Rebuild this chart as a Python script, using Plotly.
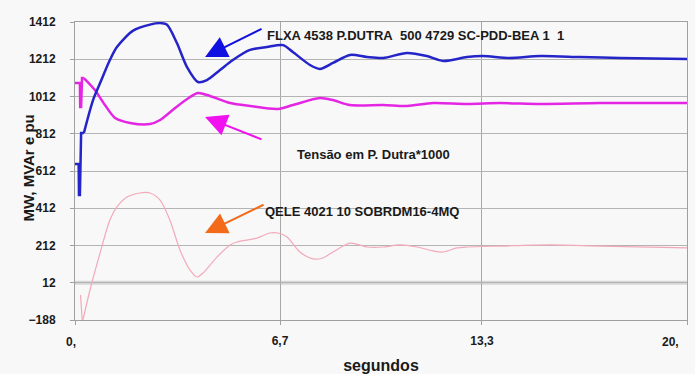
import plotly.graph_objects as go

# ---- data (time in seconds, values in MW / MVAr / pu*1000) ----
t_flxa = [0, 0.12, 0.13, 0.16, 0.2, 0.29, 0.59, 0.82, 1.14, 1.37, 1.9, 2.45, 2.78, 3.0, 3.33, 3.66,
          4.02, 4.31, 4.74, 5.16, 5.72, 6.27, 6.8, 7.12, 7.68, 8.0, 8.43, 8.99, 9.54, 10.07, 10.85,
          11.5, 12.03, 12.81, 13.33, 14.2, 15.2, 16.5, 17.8, 20.0]
v_flxa = [650, 650, 483, 483, 816, 816, 993, 1084, 1208, 1278, 1366, 1398, 1406, 1398, 1299, 1170,
          1090, 1100, 1154, 1208, 1262, 1278, 1288, 1251, 1181, 1160, 1192, 1235, 1224, 1219, 1246,
          1229, 1203, 1224, 1229, 1219, 1229, 1224, 1219, 1213]

t_tensao = [0, 0.16, 0.17, 0.2, 0.23, 0.29, 0.65, 0.98, 1.31, 1.8, 2.45, 2.78, 3.27, 3.76, 4.02,
            4.41, 5.07, 5.72, 6.63, 7.12, 8.0, 8.43, 8.99, 10.07, 10.85, 11.7, 12.81, 13.89, 15.2,
            17.16, 20.0]
v_tensao = [1084, 1084, 956, 956, 1111, 1111, 1047, 966, 897, 870, 864, 886, 950, 1009, 1031,
            1015, 977, 961, 945, 966, 1004, 993, 966, 966, 961, 977, 972, 977, 972, 977, 977]

t_qele = [0.18, 0.24, 0.26, 0.49, 0.82, 1.14, 1.37, 1.7, 2.12, 2.45, 2.78, 3.1, 3.43, 3.76, 3.99,
          4.18, 4.64, 5.07, 5.29, 5.95, 6.37, 6.63, 6.93, 7.35, 7.78, 8.1, 8.43, 8.99, 9.54, 10.07,
          10.62, 11.18, 11.7, 12.03, 12.48, 12.81, 13.89, 15.52, 17.16, 20.0]
v_qele = [-54, -200, -188, -27, 172, 349, 419, 472, 494, 494, 456, 349, 188, 80, 43,
          64, 150, 215, 231, 252, 279, 279, 258, 177, 140, 145, 177, 225, 204, 204,
          215, 204, 183, 177, 199, 204, 209, 215, 209, 199]

y_ticks = [1412, 1212, 1012, 812, 612, 412, 212, 12, -188]
x_ticks = [0, 6.7, 13.3, 20]
x_tick_text = ["0,", "6,7", "13,3", "20,"]

labels = ["FLXA 4538 P.DUTRA\u00a0 500 4729 SC-PDD-BEA 1\u00a0 1",
          "Tensão em P. Dutra*1000",
          "QELE 4021 10 SOBRDM16-4MQ"]

FONT = "Liberation Sans, Arial, sans-serif"
BLUE = "#2424c8"
MAG = "#e426e4"
PINK = "#f2a9ba"
TXT = "#1a1a1a"


def add_series(t, v, split, color, width):
    # initial switching transient drawn straight, the rest smoothed
    fig.add_trace(go.Scatter(x=t[:split + 1], y=v[:split + 1], mode="lines",
                             line=dict(color=color, width=width)))
    fig.add_trace(go.Scatter(x=t[split:], y=v[split:], mode="lines",
                             line=dict(color=color, width=width, shape="spline", smoothing=0.8)))


fig = go.Figure()
add_series(t_qele, v_qele, 2, PINK, 1.2)
add_series(t_tensao, v_tensao, 5, MAG, 2.5)
add_series(t_flxa, v_flxa, 5, BLUE, 2.5)

# thick grey band at 12
fig.add_shape(type="line", xref="x", yref="y", x0=0, x1=20, y0=12, y1=12,
              line=dict(color="#d6d6d6", width=4), layer="below")

# arrows (tip in data coords, tail offset in px)
arrows = [(4.25, 1224, 58, -29, "#1010e0"),
          (4.25, 902, 58, 23, "#f010f0"),
          (4.25, 279, 60, -29, "#f26a1a")]
for x, y, ax, ay, c in arrows:
    fig.add_annotation(x=x, y=y, ax=ax, ay=ay, text="", showarrow=True,
                       arrowhead=2, arrowsize=2.2, arrowwidth=2, arrowcolor=c, standoff=0)

txt_pos = [(6.2, 1337), (7.18, 703), (6.15, 392)]
for (x, y), s in zip(txt_pos, labels):
    fig.add_annotation(x=x, y=y, text=s, showarrow=False, xanchor="left", yanchor="middle",
                       font=dict(family=FONT, size=13, color=TXT, weight="bold"))

fig.add_annotation(xref="paper", yref="paper", x=-0.076, y=0.51, text="MW, MVAr e pu",
                   textangle=-90, showarrow=False, xanchor="center", yanchor="middle",
                   font=dict(family=FONT, size=15, color=TXT, weight="bold"))

# first and last x tick labels sit slightly offset from their ticks
for xv, s, anchor, shift in [(x_ticks[0], x_tick_text[0], "center", -4),
                             (x_ticks[-1], x_tick_text[-1], "right", -6)]:
    fig.add_annotation(xref="x", yref="paper", x=xv, y=0, yshift=-22, xshift=shift, text=s,
                       showarrow=False, xanchor=anchor, yanchor="middle",
                       font=dict(family=FONT, size=12, color=TXT, weight="bold"))

fig.update_layout(
    width=695, height=374,
    margin=dict(l=75, r=8, t=22, b=54, autoexpand=False),
    paper_bgcolor="#f8f8f8", plot_bgcolor="#f8f8f8",
    showlegend=False,
    xaxis=dict(range=[0, 20], tickvals=x_ticks, ticktext=[""] + x_tick_text[1:-1] + [""],
               showgrid=True, gridcolor="#a8a8a8", gridwidth=1,
               showline=True, linecolor="#a0a0a0", linewidth=1, mirror=True,
               ticks="outside", ticklen=4, tickcolor="#a0a0a0", zeroline=False,
               ticklabelstandoff=6, automargin=False,
               tickfont=dict(family=FONT, size=12, color=TXT, weight="bold"),
               title=dict(text="segundos", standoff=12,
                          font=dict(family=FONT, size=16, color=TXT, weight="bold"))),
    yaxis=dict(range=[-188, 1412], tickvals=y_ticks,
               showgrid=True, gridcolor="#b4b4b4", gridwidth=1,
               showline=True, linecolor="#a0a0a0", linewidth=1, mirror=True,
               ticks="outside", ticklen=4, tickcolor="#a0a0a0", zeroline=False,
               ticklabelstandoff=12, automargin=False,
               tickfont=dict(family=FONT, size=12, color=TXT, weight="bold")),
)

fig.write_html("out.html")
